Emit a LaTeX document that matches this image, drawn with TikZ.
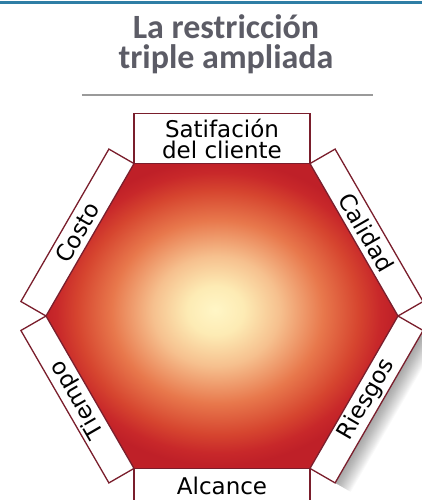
\documentclass[tikz,border=0pt]{standalone}
\usepackage{fontspec}
\newfontfamily\titlefont{Carlito}
\newfontfamily\boxfont{DejaVu Sans}
\usetikzlibrary{backgrounds}

\definecolor{titlegray}{HTML}{5C5C66}
\definecolor{rulegray}{HTML}{9A9A9A}
\definecolor{topblue}{HTML}{2F7EA5}
\definecolor{boxline}{HTML}{7A1E2C}
\definecolor{glowcore}{HTML}{FFF6C6}
\definecolor{glowcream}{HTML}{FDEBB4}
\definecolor{glowpeach}{HTML}{F6C08E}
\definecolor{gloworange}{HTML}{E8784C}
\definecolor{glowred}{HTML}{D6452F}
\definecolor{glowdeep}{HTML}{C8282A}
\definecolor{glowdark}{HTML}{BF2028}
\pgfdeclareradialshading{hexglow}{\pgfpoint{-1bp}{1bp}}{%
  color(0bp)=(glowcore); color(4bp)=(glowcream); color(9bp)=(glowpeach);
  color(15bp)=(gloworange); color(20bp)=(glowred); color(23bp)=(glowdeep);
  color(25bp)=(glowdark); color(50bp)=(glowdark)}

\begin{document}
\begin{tikzpicture}[x=1pt, y=1pt,
  side box/.style={draw=boxline, line width=1.3pt, fill=white, outer sep=0pt, inner sep=0pt,
    minimum width=176pt, minimum height=29pt, font=\boxfont\fontsize{23}{21}\selectfont}]
	%frame of the picture
	\useasboundingbox (-222,-184) rectangle (200,316);
	\clip (-222,-184) rectangle (200,316);
	
	%blue line on top
	\draw[topblue, line width=3pt] (-222,313) -- (200,313);
	
	%title
	\node[font=\titlefont\bfseries\fontsize{34}{30}\selectfont, text=titlegray, align=center, anchor=base] (title) at (4,247) {La restricción\\triple ampliada};
	\draw[rulegray, line width=2pt] (-140,221) -- (151,221);
	
	%hexagon with the glow
	\coordinate (hub) at (0,0);
	\shade[shading=hexglow] (0:176) -- (60:176) -- (120:176) -- (180:176) -- (240:176) -- (300:176) -- cycle;
	
	%boxes on the sides
	\node[side box, minimum height=50pt, anchor=south, align=center] (cliente) at (90:152.4) {Satifación\\del cliente};
	\node[side box, anchor=south, rotate=-60] (calidad) at (30:152.4) {Calidad};
	\node[side box, anchor=north, rotate=60] (riesgos) at (-30:152.4) {Riesgos};
	\node[side box, anchor=north, minimum height=36pt] (alcance) at (-90:152.4) {Alcance};
	\node[side box, anchor=south, rotate=120] (tiempo) at (210:152.4) {Tiempo};
	\node[side box, anchor=south, rotate=60] (costo) at (150:152.4) {Costo};
	
	%soft shadow behind the lower right box
	\begin{pgfonlayer}{background}
	\foreach \s in {1,...,18}
		\fill[black, opacity=0.022] ([shift={(0.87*\s,-0.5*\s)}]riesgos.north west) -- ([shift={(0.87*\s,-0.5*\s)}]riesgos.north east) -- ([shift={(0.87*\s,-0.5*\s)}]riesgos.south east) -- ([shift={(0.87*\s,-0.5*\s)}]riesgos.south west) -- cycle;
	\end{pgfonlayer}
\end{tikzpicture}
\end{document}
